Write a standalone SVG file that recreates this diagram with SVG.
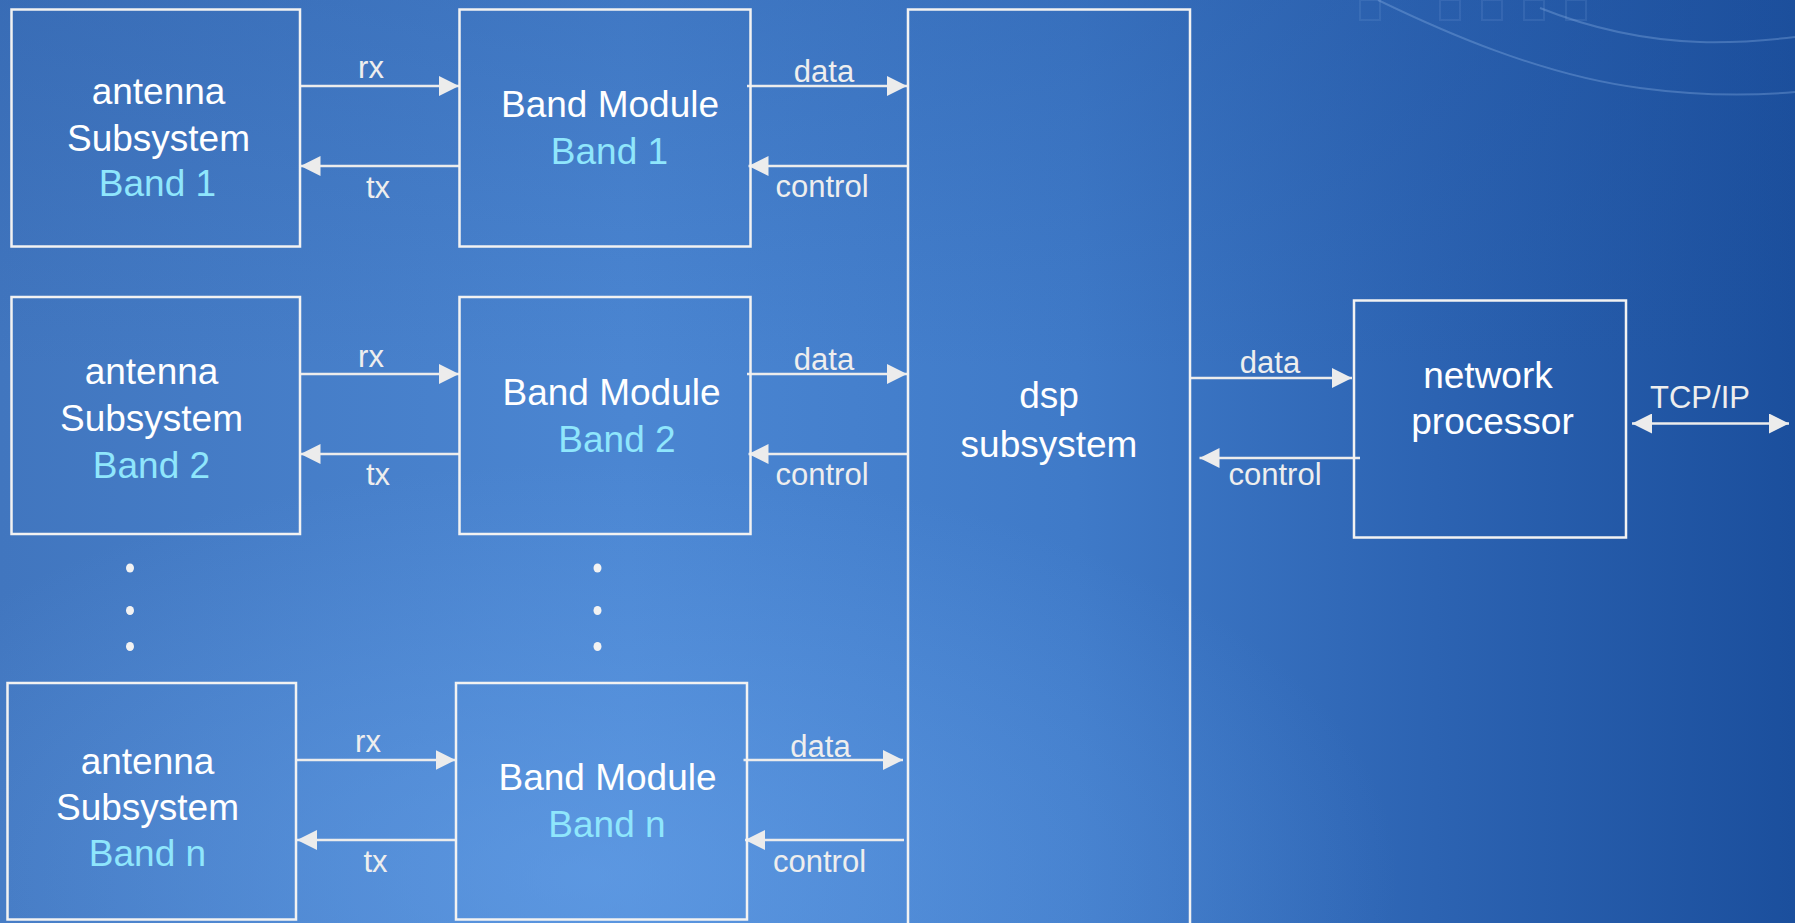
<svg xmlns="http://www.w3.org/2000/svg" width="1795" height="923" viewBox="0 0 1795 923">
<defs>
<linearGradient id="bgH" x1="0" y1="0" x2="1" y2="0">
<stop offset="0" stop-color="#4176bf"/>
<stop offset="0.35" stop-color="#4b86d2"/>
<stop offset="0.6" stop-color="#3f7ac8"/>
<stop offset="0.8" stop-color="#2c63b2"/>
<stop offset="1" stop-color="#1b4f9d"/>
</linearGradient>
<radialGradient id="glow" cx="0.33" cy="0.95" r="0.45">
<stop offset="0" stop-color="#6aa6ee" stop-opacity="0.55"/>
<stop offset="1" stop-color="#6aa6ee" stop-opacity="0"/>
</radialGradient>
<linearGradient id="topShade" x1="0" y1="0" x2="0" y2="1">
<stop offset="0" stop-color="#1f4f9a" stop-opacity="0.25"/>
<stop offset="0.4" stop-color="#1f4f9a" stop-opacity="0"/>
</linearGradient>
<marker id="ah" viewBox="0 0 20 20" refX="20" refY="10" markerWidth="20" markerHeight="20" markerUnits="userSpaceOnUse" orient="auto-start-reverse">
<path d="M0,0 L20,10 L0,20 z" fill="#ececec"/>
</marker>
</defs>
<style>
.box{fill:none;stroke:#f2f2f2;stroke-width:2.5}
.con{fill:none;stroke:#ececec;stroke-width:2.5}
.t{font-family:"Liberation Sans",Arial,sans-serif;font-size:37px;fill:#ffffff;text-anchor:middle}
.c{fill:#8fe6fc}
.l{font-family:"Liberation Sans",Arial,sans-serif;font-size:31px;fill:#eeeeee;text-anchor:middle}
.dot{fill:#f2f2f2}
.deco{fill:none;stroke:#9cc0ee;stroke-opacity:0.3;stroke-width:2}
</style>
<rect width="1795" height="923" fill="url(#bgH)"/>
<rect width="1795" height="923" fill="url(#glow)"/>
<rect width="1795" height="923" fill="url(#topShade)"/>
<g id="decoration">
<path class="deco" d="M1378,0 C1440,30 1540,75 1640,88 C1700,96 1750,96 1795,92"/>
<path class="deco" d="M1540,8 C1590,28 1640,40 1700,42 C1740,43 1770,40 1795,37"/>
<g stroke="#9cc0ee" stroke-opacity="0.12" stroke-width="2" fill="none">
<rect x="1360" y="0" width="20" height="20"/>
<rect x="1440" y="0" width="20" height="20"/>
<rect x="1482" y="0" width="20" height="20"/>
<rect x="1524" y="0" width="20" height="20"/>
<rect x="1566" y="0" width="20" height="20"/>
</g>
</g>
<g id="connectors">
<line class="con" x1="300" y1="86" x2="459" y2="86" marker-end="url(#ah)"/>
<line class="con" x1="459" y1="166" x2="300.5" y2="166" marker-end="url(#ah)"/>
<line class="con" x1="747" y1="86" x2="907" y2="86" marker-end="url(#ah)"/>
<line class="con" x1="908" y1="166" x2="748.5" y2="166" marker-end="url(#ah)"/>
<line class="con" x1="300" y1="374" x2="459" y2="374" marker-end="url(#ah)"/>
<line class="con" x1="459" y1="454" x2="300.5" y2="454" marker-end="url(#ah)"/>
<line class="con" x1="747" y1="374" x2="907" y2="374" marker-end="url(#ah)"/>
<line class="con" x1="908" y1="454" x2="748.5" y2="454" marker-end="url(#ah)"/>
<line class="con" x1="296" y1="760" x2="455.5" y2="760" marker-end="url(#ah)"/>
<line class="con" x1="456" y1="840" x2="297" y2="840" marker-end="url(#ah)"/>
<line class="con" x1="743.5" y1="760" x2="903" y2="760" marker-end="url(#ah)"/>
<line class="con" x1="904" y1="840" x2="745" y2="840" marker-end="url(#ah)"/>
<line class="con" x1="1190" y1="378" x2="1352" y2="378" marker-end="url(#ah)"/>
<line class="con" x1="1360" y1="458" x2="1199.5" y2="458" marker-end="url(#ah)"/>
<line class="con" x1="1632" y1="423.5" x2="1789" y2="423.5" marker-start="url(#ah)" marker-end="url(#ah)"/>
<text class="l" x="371" y="78">rx</text>
<text class="l" x="378" y="198">tx</text>
<text class="l" x="824" y="82">data</text>
<text class="l" x="822" y="197">control</text>
<text class="l" x="371" y="367">rx</text>
<text class="l" x="378" y="485">tx</text>
<text class="l" x="824" y="370">data</text>
<text class="l" x="822" y="485">control</text>
<text class="l" x="368" y="752">rx</text>
<text class="l" x="375.5" y="872">tx</text>
<text class="l" x="820.5" y="757">data</text>
<text class="l" x="819.5" y="872">control</text>
<text class="l" x="1270" y="373">data</text>
<text class="l" x="1275" y="485">control</text>
<text class="l" x="1700" y="408">TCP/IP</text>
</g>
<g id="antenna1">
<rect class="box" x="11.5" y="9.5" width="288.5" height="237"/>
<text class="t" x="158.5" y="104">antenna</text>
<text class="t" x="158.5" y="150.5">Subsystem</text>
<text class="t c" x="157.5" y="196">Band 1</text>
</g>
<g id="band1">
<rect class="box" x="459.5" y="9.5" width="291" height="237"/>
<text class="t" x="610" y="116.5">Band Module</text>
<text class="t c" x="609.5" y="163.5">Band 1</text>
</g>
<g id="antenna2">
<rect class="box" x="11.5" y="297" width="288.5" height="237"/>
<text class="t" x="151.5" y="383.5">antenna</text>
<text class="t" x="151.5" y="430.5">Subsystem</text>
<text class="t c" x="151.5" y="477.5">Band 2</text>
</g>
<g id="band2">
<rect class="box" x="459.5" y="297" width="291" height="237"/>
<text class="t" x="611.5" y="405">Band Module</text>
<text class="t c" x="617" y="451.5">Band 2</text>
</g>
<g id="dots">
<ellipse class="dot" cx="130" cy="568" rx="4" ry="4.5"/>
<ellipse class="dot" cx="130" cy="610.5" rx="4" ry="4.5"/>
<ellipse class="dot" cx="130" cy="646.5" rx="4" ry="4.5"/>
<ellipse class="dot" cx="597.5" cy="568" rx="4" ry="4.5"/>
<ellipse class="dot" cx="597.5" cy="610.5" rx="4" ry="4.5"/>
<ellipse class="dot" cx="597.5" cy="646.5" rx="4" ry="4.5"/>
</g>
<g id="antennan">
<rect class="box" x="7.5" y="683" width="288.5" height="236.5"/>
<text class="t" x="147.5" y="773.5">antenna</text>
<text class="t" x="147.5" y="820">Subsystem</text>
<text class="t c" x="147.5" y="866">Band n</text>
</g>
<g id="bandn">
<rect class="box" x="456" y="683" width="291" height="236.5"/>
<text class="t" x="607.5" y="790">Band Module</text>
<text class="t c" x="607" y="836.5">Band n</text>
</g>
<g id="dsp">
<rect class="box" x="908" y="9.5" width="282" height="930"/>
<text class="t" x="1049" y="408">dsp</text>
<text class="t" x="1049" y="456.5">subsystem</text>
</g>
<g id="network">
<rect class="box" x="1354" y="300.5" width="272" height="237"/>
<text class="t" x="1488" y="388">network</text>
<text class="t" x="1492.5" y="434">processor</text>
</g>
</svg>
